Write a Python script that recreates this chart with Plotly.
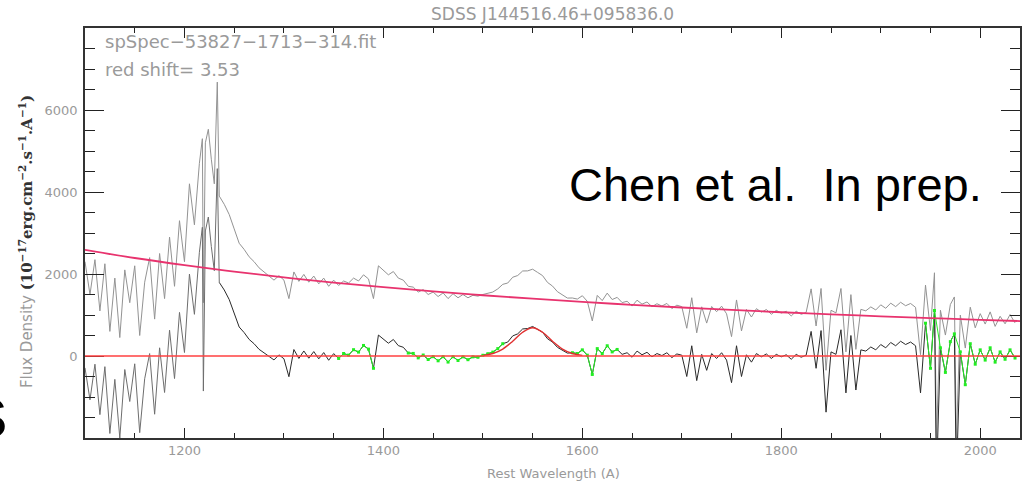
import plotly.graph_objects as go

# ---------------- data ----------------
wave = [1100, 1105, 1110, 1115, 1120, 1125, 1130, 1135, 1140, 1145, 1150, 1155, 1160, 1165, 1170, 1175, 1180,
        1185, 1190, 1195, 1200, 1205, 1210, 1215, 1218, 1219, 1221, 1224, 1227, 1230, 1233, 1235, 1240, 1245,
        1250, 1255, 1260, 1265, 1270, 1275, 1280, 1285, 1290, 1295,
        1300, 1305, 1310, 1315, 1320, 1325, 1330, 1335, 1340, 1345, 1350, 1355, 1360, 1365, 1370, 1375, 1380,
        1385, 1390, 1395, 1400, 1405, 1410, 1415, 1420, 1425, 1430, 1435, 1440, 1445, 1450,
        1455, 1460, 1465, 1470, 1475, 1480, 1485, 1490, 1495, 1500, 1505, 1510,
        1515, 1520, 1525, 1530, 1535, 1540, 1545, 1550, 1555, 1560, 1565, 1570, 1575, 1580, 1585, 1590,
        1595, 1600, 1605, 1610, 1615, 1620, 1625, 1630, 1635, 1640,
        1645, 1650, 1655, 1660, 1665, 1670, 1675, 1680, 1685, 1690, 1695, 1700, 1705, 1710, 1715, 1720,
        1725, 1730, 1735, 1740, 1745, 1750, 1755, 1760, 1765, 1770, 1775, 1780, 1785, 1790, 1795, 1800,
        1805, 1810, 1815, 1820, 1825,
        1830, 1835, 1840, 1845, 1850, 1855, 1860, 1865, 1870, 1875, 1880,
        1885, 1890, 1895, 1900, 1905, 1910, 1915, 1920, 1925, 1930, 1935, 1940,
        1945, 1950, 1954, 1956, 1960, 1965, 1970, 1974, 1976, 1980, 1985, 1990, 1995, 2000, 2005, 2010,
        2015, 2020, 2025, 2030, 2035]

flux_obs = [2300, 1500, 2350, 1100, 2250, 600, 1900, 450, 2100, 1300, 2200, 500, 1800, 2400, 900, 2500, 1400,
            2900, 1700, 3300, 2300, 4200, 3200, 4700, 5300, 1300, 5200, 5530, 4800, 4200, 6680, 3900, 3700, 3450,
            3100, 2750, 2600, 2420, 2300, 2150, 2050, 1950, 1850, 1960,
            1850, 1400, 2050, 1820, 1990, 1800, 1950, 1760, 1900, 1700, 1850, 1720, 1830, 1780, 1900, 1830, 1980,
            1880, 1400, 2200, 2080, 1980, 2060, 1900, 1850, 1700, 1680, 1560, 1620, 1500, 1560,
            1450, 1540, 1400, 1520, 1420, 1500, 1420, 1480, 1460, 1500, 1530, 1560,
            1637, 1748, 1780, 1921, 1963, 2074, 2076, 2117, 2039, 1961, 1794, 1706, 1568, 1500, 1413, 1415,
            1388, 1470, 1333, 856, 1478, 1351, 1534, 1377, 1430, 1303,
            1335, 1218, 1361, 1265, 1318, 1202, 1275, 1219, 1282, 1156, 1239, 1203, 677, 1421, 565, 1199,
            803, 1207, 1081, 1215, 1029, 473, 1367, 612, 1136, 951, 1155, 1069, 1134, 1018, 1113, 1047,
            1092, 977, 1092, 1017, 1062,
            1637, 732, 1647, -349, 1116, 1051, 1646, 101, 1497, 162, 1137,
            1102, 1197, 1123, 1248, 1164, 1289, 1205, 1310, 1226, 1281, 1187, 33,
            1728, 624, 2030, -2080, 1115, 511, 1256, 1440, -2100, 998, 194, 1190, 687, 1033, 779, 1076,
            722, 968, 785, 1011, 807]

flux_resid = [-290, -1070, -200, -1430, -260, -1890, -570, -2000, -330, -1110, -190, -1870, -555, 60, -1420, 200, -890,
              630, -550, 1064, 85, 2000, 1016, 2530, 3140, -855, 3050, 3390, 2670, 2080, 4570, 1795, 1610, 1376,
              1043, 707, 571, 405, 299, 163, 77, -9, -96, 28,
              -68, -505, 158, -60, 123, -54, 108, -69, 84, -104, 59, -60, 61, 22, 154, 95, 257,
              168, -300, 511, 402, 312, 403, 253, 213, 73, 63, -46, 24, -86, -16,
              -117, -17, -148, -18, -109, -20, -90, -21, -31, 18, 56, 95,
              180, 300, 340, 490, 540, 660, 670, 720, 650, 580, 420, 340, 210, 150, 70, 80,
              60, 150, 20, -450, 180, 60, 250, 100, 160, 40,
              80, -30, 120, 30, 90, -20, 60, 10, 80, -40, 50, 20, -500, 250, -600, 40,
              -350, 60, -60, 80, -100, -650, 250, -500, 30, -150, 60, -20, 50, -60, 40, -20,
              30, -80, 40, -30, 20,
              600, -300, 620, -1370, 100, 40, 640, -900, 500, -830, 150,
              120, 220, 150, 280, 200, 330, 250, 360, 280, 340, 250, -900,
              800, -300, 1110, -3000, 200, -400, 350, 540, -3000, 100, -700, 300, -200, 150, -100, 200,
              -150, 100, -80, 150, -50]

cont_wave = [1100, 1150, 1200, 1250, 1300, 1350, 1400, 1450, 1500, 1550, 1600, 1650, 1700, 1750,
             1800, 1850, 1900, 1950, 2000, 2040]
cont_flux = [2590, 2390, 2215, 2057, 1918, 1791, 1678, 1576, 1482, 1397, 1320, 1248, 1183, 1123,
             1067, 1016, 968, 924, 883, 852]

fit_wave = [1500, 1510, 1520, 1530, 1540, 1550, 1560, 1570, 1580, 1590, 1600]
fit_flux = [10, 60, 170, 360, 580, 690, 580, 360, 170, 60, 15]

green_windows = [(1355, 1392), (1425, 1522), (1586, 1636), (1942, 2036)]

x_ticks = [1200, 1400, 1600, 1800, 2000]
y_ticks = [0, 2000, 4000, 6000]

title_text = "SDSS J144516.46+095836.0"
file_text = "spSpec\u221253827\u22121713\u2212314.fit"
z_text = "red shift= 3.53"
credit_text = "Chen et al.\u00a0 In prep."

assert len(wave) == len(flux_obs) == len(flux_resid)

# ---------------- figure ----------------
fig = go.Figure()

# observed spectrum (grey)
fig.add_trace(go.Scatter(x=wave, y=flux_obs, mode="lines",
                         line=dict(color="#939393", width=1), hoverinfo="skip"))

# residual spectrum: grey in the Lya forest, dark afterwards
split = next(i for i, w in enumerate(wave) if w >= 1235)
fig.add_trace(go.Scatter(x=wave[:split + 1], y=flux_resid[:split + 1], mode="lines",
                         line=dict(color="#6e6e6e", width=1), hoverinfo="skip"))
fig.add_trace(go.Scatter(x=wave[split:], y=flux_resid[split:], mode="lines",
                         line=dict(color="#2a2a2a", width=1), hoverinfo="skip"))

# zero line
fig.add_hline(y=0, line=dict(color="#ff4040", width=1.6), layer="above")

# green continuum-window points
for lo, hi in green_windows:
    gx = [w for w, f in zip(wave, flux_resid) if lo <= w <= hi and f > -1500]
    gy = [f for w, f in zip(wave, flux_resid) if lo <= w <= hi and f > -1500]
    fig.add_trace(go.Scatter(x=gx, y=gy, mode="lines+markers",
                             line=dict(color="#22ee22", width=1),
                             marker=dict(color="#22ee22", size=3, symbol="square"),
                             hoverinfo="skip"))

# gaussian fit of CIV
fig.add_trace(go.Scatter(x=fit_wave, y=fit_flux, mode="lines", line_shape="spline",
                         line=dict(color="#e03030", width=1.4), hoverinfo="skip"))

# power-law continuum
fig.add_trace(go.Scatter(x=cont_wave, y=cont_flux, mode="lines", line_shape="spline",
                         line=dict(color="#e8336e", width=1.8), hoverinfo="skip"))

tickfont = dict(family="DejaVu Sans", size=13, color="#9a9a9a")

fig.update_xaxes(range=[1100, 2040], tickmode="array", tickvals=x_ticks,
                 ticks="inside", ticklen=10, tickwidth=1.3, tickcolor="#222",
                 minor=dict(ticks="inside", ticklen=5, tickwidth=1.1, tickcolor="#222",
                            tickmode="linear", tick0=1100, dtick=50, showgrid=False),
                 showline=True, linecolor="#333", linewidth=1.5, mirror="allticks",
                 showgrid=False, zeroline=False, tickfont=tickfont)
fig.update_yaxes(range=[-2000, 8000], tickmode="array", tickvals=y_ticks,
                 ticks="inside", ticklen=19, tickwidth=1.3, tickcolor="#222",
                 minor=dict(ticks="inside", ticklen=10, tickwidth=1.1, tickcolor="#222",
                            tickmode="linear", tick0=0, dtick=500, showgrid=False),
                 showline=True, linecolor="#333", linewidth=1.5, mirror="allticks",
                 showgrid=False, zeroline=False, tickfont=tickfont, ticklabelstandoff=3)

grey = "#9a9a9a"
ann = [
    dict(text=title_text, x=0.5005, y=1.034, xanchor="center", yanchor="middle",
         font=dict(family="DejaVu Sans", size=17, color=grey)),
    dict(text=file_text, x=0.0192, y=0.9659, xanchor="left", yanchor="middle",
         font=dict(family="DejaVu Sans", size=18, color=grey)),
    dict(text=z_text, x=0.0192, y=0.8976, xanchor="left", yanchor="middle",
         font=dict(family="DejaVu Sans", size=18, color=grey)),
    dict(text=credit_text, x=0.5155, y=0.6195, xanchor="left", yanchor="middle",
         font=dict(family="Liberation Sans", size=47, color="black")),
    dict(text="Rest Wavelength (A)", x=0.5016, y=-0.0878, xanchor="center", yanchor="middle",
         font=dict(family="DejaVu Sans", size=13, color=grey)),
    dict(text="<span style='color:#9a9a9a'>Flux Density </span>"
              "<b><span style='font-family:DejaVu Serif'>(10<sup>\u221217</sup>erg.cm<sup>\u22122</sup>"
              ".s<sup>\u22121</sup>.A<sup>\u22121</sup>)</span></b>",
         x=-0.063, y=0.478, xanchor="center", yanchor="middle", textangle=-90,
         font=dict(family="DejaVu Sans", size=15, color="#333")),
    dict(text="S", x=-0.0811, y=0.049, xanchor="right", yanchor="middle",
         font=dict(family="Liberation Sans", size=56, color="black")),
]
for a in ann:
    a.update(xref="paper", yref="paper", showarrow=False)
fig.update_layout(annotations=ann)

fig.update_layout(width=1026, height=485, margin=dict(l=85, r=4, t=28, b=47),
                  paper_bgcolor="white", plot_bgcolor="white", showlegend=False,
                  font=dict(family="DejaVu Sans"))

fig.write_html("out.html")
